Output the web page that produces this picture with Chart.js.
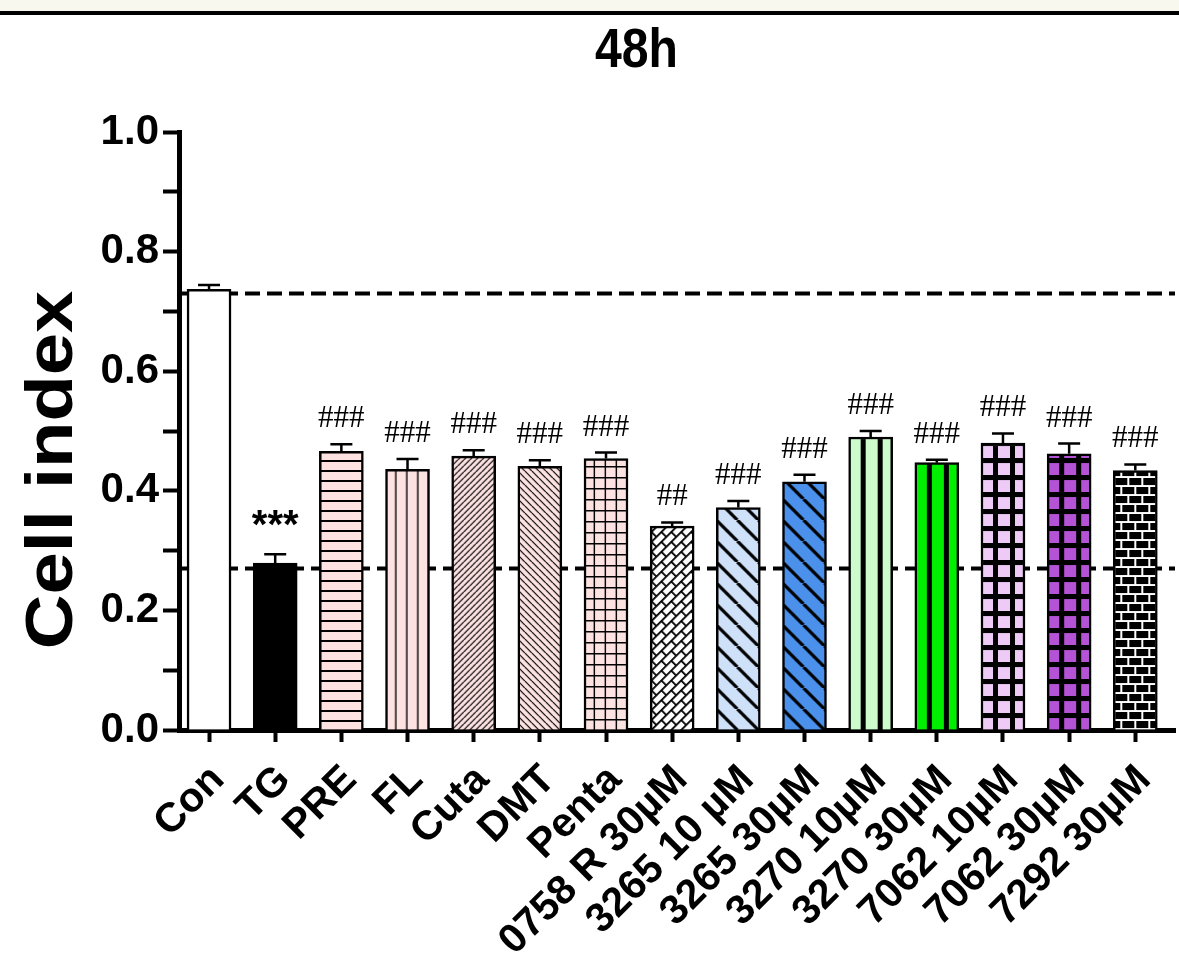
<!DOCTYPE html>
<html><head><meta charset="utf-8">
<script src="https://cdn.jsdelivr.net/npm/chart.js@4/dist/chart.umd.min.js"></script>
<style>html,body{margin:0;padding:0;background:#fff}canvas{display:block}</style>
</head><body>
<canvas id="c" width="1179" height="976"></canvas>
<script>
// ---------- data ----------
const categories = ['Con','TG','PRE','FL','Cuta','DMT','Penta','0758 R 30µM','3265 10 µM','3265 30µM','3270 10µM','3270 30µM','7062 10µM','7062 30µM','7292 30µM'];
const meanValues = [0.737,0.279,0.466,0.436,0.458,0.441,0.454,0.341,0.372,0.415,0.490,0.447,0.480,0.462,0.434];
const errorValues = [0.007,0.015,0.012,0.017,0.010,0.010,0.010,0.006,0.011,0.012,0.010,0.005,0.016,0.017,0.010];
const significance = ['','***','###','###','###','###','###','##','###','###','###','###','###','###','###'];
const referenceLines = [0.73, 0.27];
const yTickLabels = ['0.0','0.2','0.4','0.6','0.8','1.0'];
const chartTitle = '48h';
const yAxisTitle = 'Cell index';

// ---------- styles ----------
const FONT = '"Liberation Sans", Arial, sans-serif';
const PINK = '#fde2e2';
function tile(w,h,draw){const c=document.createElement('canvas');c.width=w;c.height=h;const g=c.getContext('2d');draw(g,w,h);return c;}
function diag(s,dir,bg,lw){return tile(s,s,(g)=>{g.fillStyle=bg;g.fillRect(0,0,s,s);g.strokeStyle='#000';g.lineWidth=lw;g.beginPath();
  for(let k=-1;k<=1;k++){ if(dir==='/'){g.moveTo(k*s,s);g.lineTo(k*s+s,0);} else {g.moveTo(k*s,0);g.lineTo(k*s+s,s);} }
  g.stroke();});}
function vstripe(bg){return tile(17,17,(g)=>{g.fillStyle=bg;g.fillRect(0,0,17,17);g.fillStyle='#000';g.fillRect(12,0,5,17);});}
function thickGrid(bg){return tile(17,17,(g)=>{g.fillStyle=bg;g.fillRect(0,0,17,17);g.fillStyle='#000';g.fillRect(12,0,5,17);g.fillRect(0,0,17,5);});}
const solidFills = ['#ffffff','#000000'];
const tiles = [
  null, null,
  tile(44,10,(g,w,h)=>{g.fillStyle=PINK;g.fillRect(0,0,w,h);g.fillStyle='#000';g.fillRect(0,0,w,2);}),
  tile(11,20,(g,w,h)=>{g.fillStyle=PINK;g.fillRect(0,0,w,h);g.fillStyle='#000';g.fillRect(9.6,0,1.5,h);}),
  diag(6,'/',PINK,1.2),
  diag(7,'\\',PINK,1.2),
  tile(11,11,(g,w,h)=>{g.fillStyle=PINK;g.fillRect(0,0,w,h);g.fillStyle='#000';g.fillRect(9.6,0,1.5,h);g.fillRect(0,0,w,1.5);}),
  tile(14,14,(g,w,h)=>{g.fillStyle='#fff';g.fillRect(0,0,w,h);g.fillStyle='#000';g.fillRect(0,0,w,1.8);g.fillRect(0,7,w,1.8);g.fillRect(0,0,1.8,7);g.fillRect(7,7,1.8,7);}),
  diag(21,'\\','#cfe1f8',3.2),
  diag(21,'\\','#4b91ec',3.2),
  vstripe('#ccfbcc'),
  vstripe('#00ee00'),
  thickGrid('#edcbf6'),
  thickGrid('#b553d6'),
  tile(14,18,(g,w,h)=>{g.fillStyle='#000';g.fillRect(0,0,w,h);g.fillStyle='#fff';g.fillRect(0,7,w,2);g.fillRect(0,16,w,2);g.fillRect(0,0,2,7);g.fillRect(7,9,2,7);})
];
const tileRotation = [0,0,0,0,0,0,0,-45,0,0,0,0,0,0,0];
const BAR_W = 44;

function barFill(c){
  const i = c.dataIndex;
  if (c.type !== 'data') return '#fff';
  const t = tiles[i];
  if (!t) return solidFills[i];
  const chart = c.chart, xs = chart.scales.x, ys = chart.scales.y;
  const p = chart.ctx.createPattern(t,'repeat');
  if (xs && ys) {
    const m = new DOMMatrix().translateSelf(xs.getPixelForValue(i) - BAR_W/2, ys.getPixelForValue(0));
    if (tileRotation[i]) m.rotateSelf(tileRotation[i]);
    p.setTransform(m);
  }
  return p;
}

const decor = {
  id: 'decor',
  beforeDatasetsDraw(chart){
    const {ctx, chartArea:a, scales:{y}} = chart;
    ctx.save(); ctx.strokeStyle='#000'; ctx.lineWidth=4; ctx.setLineDash([15,7]);
    referenceLines.forEach(v=>{const py=y.getPixelForValue(v);ctx.beginPath();ctx.moveTo(a.left,py);ctx.lineTo(a.right,py);ctx.stroke();});
    ctx.restore();
  },
  afterDatasetsDraw(chart){
    const {ctx, scales:{y}} = chart;
    const meta = chart.getDatasetMeta(0);
    ctx.save(); ctx.strokeStyle='#000'; ctx.lineWidth=2.5; ctx.fillStyle='#000'; ctx.textAlign='center'; ctx.textBaseline='alphabetic';
    meta.data.forEach((bar,i)=>{
      const x = bar.x, yTop = bar.y, yCap = y.getPixelForValue(meanValues[i]+errorValues[i]);
      ctx.beginPath(); ctx.moveTo(x,yTop); ctx.lineTo(x,yCap); ctx.moveTo(x-11,yCap); ctx.lineTo(x+11,yCap); ctx.stroke();
      const s = significance[i];
      if (s) {
        ctx.font = s.startsWith('*') ? `bold 40px ${FONT}` : '31px "Liberation Serif", "Times New Roman", serif';
        ctx.fillText(s, x, yCap - (s.startsWith('*') ? 16 : 17));
      }
    });
    ctx.restore();
  },
  afterDraw(chart){
    const ctx = chart.ctx;
    ctx.save();
    ctx.fillStyle='#f8f8ee'; ctx.fillRect(0,0,1179,11);
    ctx.fillStyle='#000'; ctx.fillRect(0,11,1179,4);
    ctx.textAlign='center'; ctx.textBaseline='alphabetic';
    ctx.save(); ctx.translate(636.5,67); ctx.scale(0.86,1); ctx.font=`bold 56px ${FONT}`; ctx.fillText(chartTitle,0,0); ctx.restore();
    ctx.save(); ctx.translate(72,470); ctx.rotate(-Math.PI/2); ctx.scale(1.15,1); ctx.font=`bold 66px ${FONT}`; ctx.fillText(yAxisTitle,0,0); ctx.restore();
    ctx.restore();
  }
};

new Chart(document.getElementById('c'), {
  type: 'bar',
  data: {
    datasets: [{
      data: categories.map((c,i)=>({x:i, y:meanValues[i]})),
      backgroundColor: barFill,
      borderColor: '#000',
      borderWidth: 2.5,
      barThickness: BAR_W
    }]
  },
  options: {
    responsive: false,
    devicePixelRatio: 1,
    animation: false,
    events: [],
    layout: { padding: { top: 132, right: 4, left: 0, bottom: 0 } },
    plugins: { legend: { display: false }, tooltip: { enabled: false }, title: { display: false } },
    scales: {
      x: {
        type: 'linear', min: -0.454, max: 14.6, offset: false, z: 1,
        ticks: {
          stepSize: 1, includeBounds: false, autoSkip: false, maxRotation: 45, minRotation: 45,
          color: '#000', font: { family: FONT, size: 41, weight: 'bold' }, padding: 14, labelOffset: 9,
          callback: (v) => Number.isInteger(v) ? (categories[v] ?? '') : ''
        },
        grid: { drawOnChartArea: false, offset: false, tickLength: 12, tickWidth: 4, tickColor: '#000' },
        border: { color: '#000', width: 5 },
        afterFit: (s) => { s.height = 246; s.paddingLeft = 0; s.paddingRight = 0; }
      },
      y: {
        min: 0, max: 1, z: 1,
        ticks: {
          stepSize: 0.1, color: '#000', font: { family: FONT, size: 42, weight: 'bold' }, padding: 4,
          callback: (v) => { const k = Math.round(v*10); return k % 2 === 0 ? yTickLabels[k/2] : ''; }
        },
        grid: { drawOnChartArea: false, tickLength: 16, tickWidth: 4, tickColor: '#000' },
        border: { color: '#000', width: 5 },
        afterFit: (s) => { s.width = 179; s.paddingTop = 0; s.paddingBottom = 0; }
      }
    }
  },
  plugins: [decor]
});
</script>
</body></html>
